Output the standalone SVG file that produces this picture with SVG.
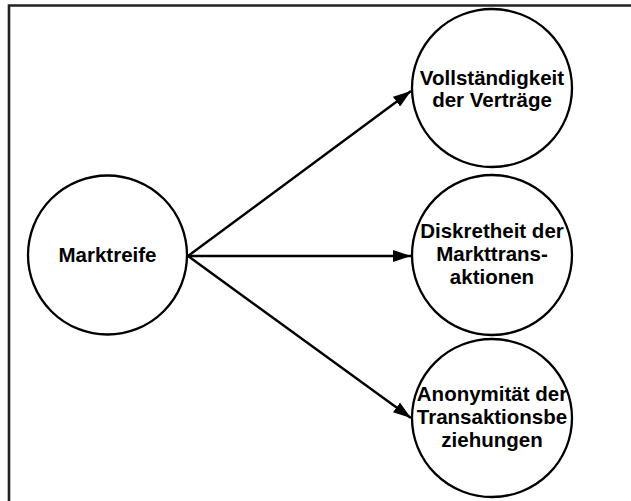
<svg xmlns="http://www.w3.org/2000/svg" width="631" height="501" viewBox="0 0 631 501">
<style>
.node{fill:#fff;stroke:#000;stroke-width:2.3}
.lbl{font-family:"Liberation Sans",Arial,sans-serif;font-weight:bold;font-size:20.5px;fill:#000;text-anchor:middle}
.edge{stroke:#000;stroke-width:2.4;fill:none}
</style>
<defs>
<marker id="arr" viewBox="0 0 18 12" refX="18" refY="6" markerWidth="18" markerHeight="12" markerUnits="userSpaceOnUse" orient="auto">
<path d="M0,0 L18,6 L0,12 z" fill="#000"/>
</marker>
</defs>
<rect x="0" y="0" width="631" height="501" fill="#fff"/>
<path d="M9,520 L9,5.5 L640,5.5" fill="none" stroke="#222" stroke-width="2.6"/>
<g id="connectors">
<line class="edge" x1="188" y1="256" x2="411" y2="91" marker-end="url(#arr)"/>
<line class="edge" x1="188" y1="256" x2="411" y2="256" stroke-width="3" marker-end="url(#arr)"/>
<line class="edge" x1="188" y1="256" x2="411" y2="418" marker-end="url(#arr)"/>
</g>
<g id="marktreife">
<ellipse class="node" cx="107.5" cy="255" rx="79.5" ry="79.5"/>
<text class="lbl" x="107.5" y="262">Marktreife</text>
</g>
<g id="vollstaendigkeit">
<ellipse class="node" cx="492" cy="88" rx="80" ry="79"/>
<text class="lbl" x="492" y="85">Vollständigkeit</text>
<text class="lbl" x="492" y="107">der Verträge</text>
</g>
<g id="diskretheit">
<ellipse class="node" cx="492" cy="255" rx="80" ry="80"/>
<text class="lbl" x="492" y="238">Diskretheit der</text>
<text class="lbl" x="492" y="261">Markttrans-</text>
<text class="lbl" x="492" y="284">aktionen</text>
</g>
<g id="anonymitaet">
<ellipse class="node" cx="492" cy="418" rx="80" ry="79"/>
<text class="lbl" x="492" y="401">Anonymität der</text>
<text class="lbl" x="492" y="424">Transaktionsbe</text>
<text class="lbl" x="492" y="447">ziehungen</text>
</g>
</svg>
